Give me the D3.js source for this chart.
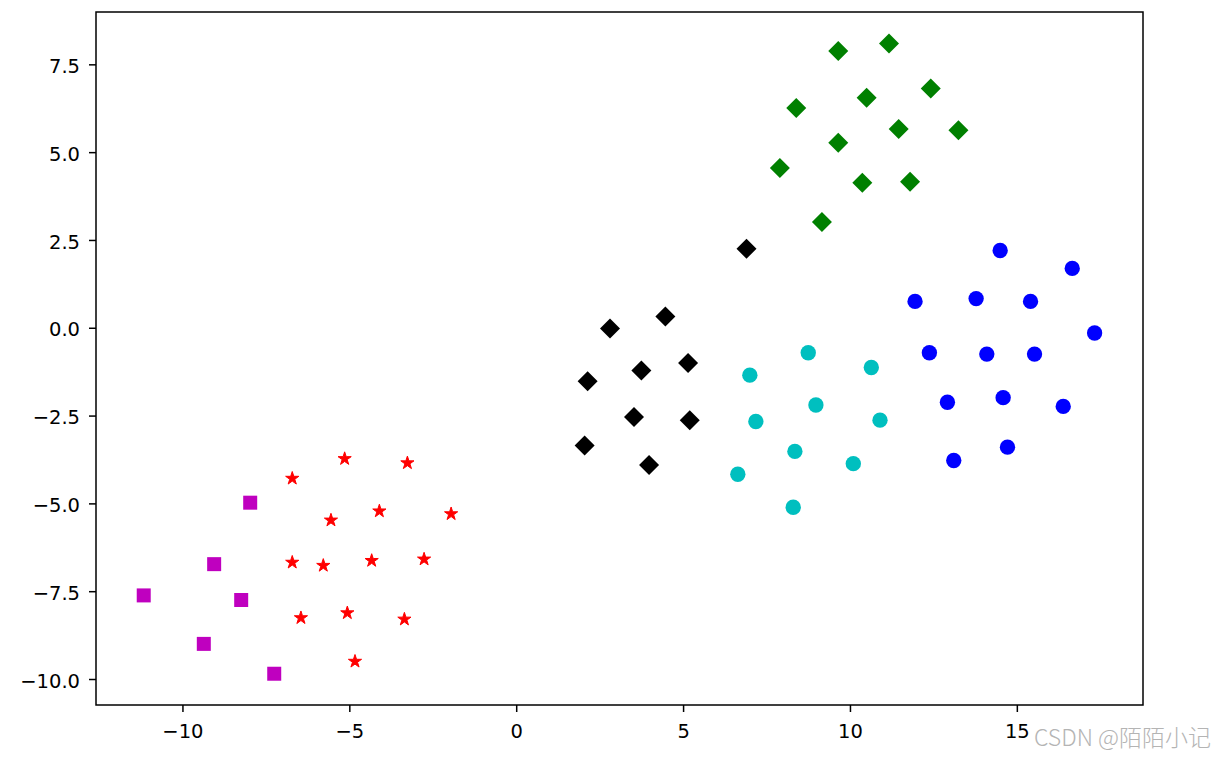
<!DOCTYPE html>
<html>
<head>
<meta charset="utf-8">
<script src="https://cdn.jsdelivr.net/npm/d3@7"></script>
<style>
  body { margin: 0; background: #fff; }
  svg { display: block; }
  .tick text { font-family: "DejaVu Sans", sans-serif; font-size: 19.5px; fill: #000; }
</style>
</head>
<body>
<div id="chart-area"></div>
<script>
// data, one pair of arrays per cluster
const squareX = [-7.97, -9.05, -11.16, -8.24, -9.36, -7.25]
const squareY = [-4.98, -6.73, -7.62, -7.75, -9.00, -9.85]

const starX = [-5.14, -3.26, -6.71, -4.10, -5.55, -1.95, -6.71, -5.78, -4.33, -2.76, -6.45, -5.06, -3.35, -4.83]
const starY = [-3.73, -3.85, -4.29, -5.22, -5.48, -5.30, -6.68, -6.77, -6.63, -6.59, -8.26, -8.12, -8.30, -9.50]

const blackX = [6.90, 4.47, 2.81, 5.15, 3.75, 2.14, 3.53, 5.20, 2.05, 3.98]
const blackY = [2.25, 0.32, -0.02, -1.00, -1.22, -1.52, -2.54, -2.63, -3.35, -3.91]

const cyanX = [8.75, 7.00, 10.64, 8.98, 7.18, 10.90, 8.35, 10.10, 6.64, 8.30]
const cyanY = [-0.71, -1.35, -1.13, -2.20, -2.67, -2.63, -3.52, -3.87, -4.17, -5.11]

const blueX = [14.50, 16.66, 11.95, 13.78, 15.41, 17.33, 12.38, 14.10, 15.53, 12.92, 14.59, 16.39, 14.72, 13.11]
const blueY = [2.20, 1.69, 0.75, 0.83, 0.75, -0.15, -0.71, -0.75, -0.75, -2.12, -1.99, -2.24, -3.40, -3.78]

const greenX = [9.65, 11.17, 12.42, 10.50, 8.39, 11.46, 13.25, 9.65, 7.90, 10.37, 11.80, 9.16]
const greenY = [7.88, 8.09, 6.81, 6.55, 6.26, 5.66, 5.62, 5.27, 4.55, 4.13, 4.16, 3.01]

const xTicks = [-10, -5, 0, 5, 10, 15]
const yTicks = [-10, -7.5, -5, -2.5, 0, 2.5, 5, 7.5]

const W = 1221, H = 757
const MARGIN = { LEFT: 96, RIGHT: 78, TOP: 12, BOTTOM: 52 }

const svg = d3.select("#chart-area").append("svg")
  .attr("width", W)
  .attr("height", H)

svg.append("rect").attr("width", W).attr("height", H).attr("fill", "#fff")

const x = d3.scaleLinear()
  .domain([-12.59, 18.78])
  .range([MARGIN.LEFT, W - MARGIN.RIGHT])

const y = d3.scaleLinear()
  .domain([-10.74, 8.99])
  .range([H - MARGIN.BOTTOM, MARGIN.TOP])

// groups: marker type + colour
const groups = [
  { xs: squareX, ys: squareY, type: d3.symbolSquare, size: 196, rot: 0, color: "#bf00bf", edge: 0 },
  { xs: starX, ys: starY, type: d3.symbolStar, size: 54, rot: 0, color: "#ff0000", edge: 1 },
  { xs: blackX, ys: blackY, type: d3.symbolSquare, size: 200, rot: 45, color: "#000000", edge: 0 },
  { xs: cyanX, ys: cyanY, type: d3.symbolCircle, size: 185, rot: 0, color: "#00bfbf", edge: 0 },
  { xs: blueX, ys: blueY, type: d3.symbolCircle, size: 185, rot: 0, color: "#0000ff", edge: 0 },
  { xs: greenX, ys: greenY, type: d3.symbolSquare, size: 200, rot: 45, color: "#008000", edge: 0 }
]

const plot = svg.append("g")

groups.forEach(grp => {
  const pts = grp.xs.map((v, i) => ({ x: v, y: grp.ys[i] }))
  plot.selectAll(null)
    .data(pts)
    .enter().append("path")
    .attr("d", d3.symbol().type(grp.type).size(grp.size))
    .attr("transform", d => `translate(${x(d.x)},${y(d.y)}) rotate(${grp.rot})`)
    .attr("fill", grp.color)
    .attr("stroke", grp.edge ? grp.color : "none")
    .attr("stroke-width", grp.edge)
    .attr("stroke-linejoin", "round")
})

// x axis
const xAxisGroup = svg.append("g")
  .attr("transform", `translate(0, ${H - MARGIN.BOTTOM})`)
  .call(d3.axisBottom(x).tickValues(xTicks).tickFormat(d3.format("d")).tickSize(7).tickSizeOuter(0).tickPadding(12))
xAxisGroup.select(".domain").remove()
xAxisGroup.selectAll(".tick line").attr("stroke", "#000").attr("stroke-width", 1.5)

// y axis
const yAxisGroup = svg.append("g")
  .attr("transform", `translate(${MARGIN.LEFT}, 0)`)
  .call(d3.axisLeft(y).tickValues(yTicks).tickFormat(d3.format(".1f")).tickSize(7).tickSizeOuter(0).tickPadding(9))
yAxisGroup.select(".domain").remove()
yAxisGroup.selectAll(".tick line").attr("stroke", "#000").attr("stroke-width", 1.5)
yAxisGroup.selectAll(".tick text").attr("dy", "0.42em")

// frame
svg.append("rect")
  .attr("x", MARGIN.LEFT)
  .attr("y", MARGIN.TOP)
  .attr("width", W - MARGIN.RIGHT - MARGIN.LEFT)
  .attr("height", H - MARGIN.BOTTOM - MARGIN.TOP)
  .attr("fill", "none")
  .attr("stroke", "#000")
  .attr("stroke-width", 1.5)

// watermark
svg.append("text")
  .attr("x", 1034)
  .attr("y", 746)
  .attr("font-family", "'Noto Sans CJK SC', 'Liberation Sans', sans-serif")
  .attr("font-weight", 300)
  .attr("font-size", "23px")
  .attr("fill", "#b4b4b4")
  .text("CSDN @陌陌小记")
</script>
</body>
</html>
